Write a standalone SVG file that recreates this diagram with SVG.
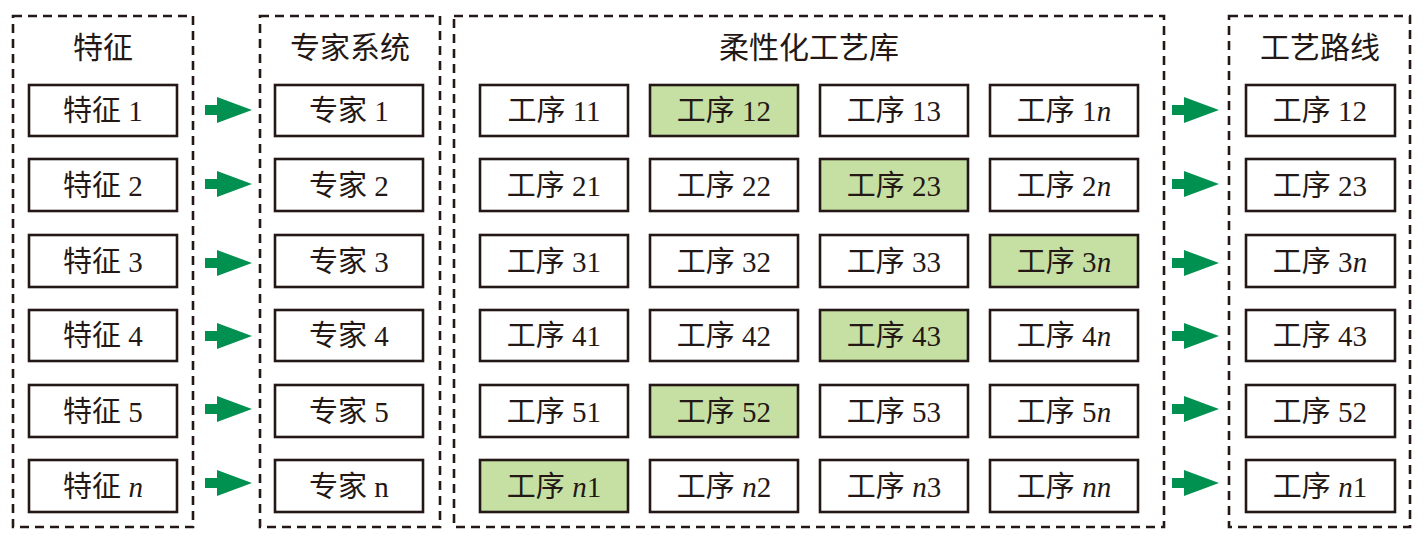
<svg xmlns="http://www.w3.org/2000/svg" width="1428" height="542" viewBox="0 0 1428 542">
<defs>
<style>
.c{fill:none;stroke:#231815;stroke-width:2.6;stroke-dasharray:9 6}
.b{fill:#fff;stroke:#231815;stroke-width:2.6}
.g{fill:#c6e0a4;stroke:#231815;stroke-width:2.6}
text{font-family:"Liberation Serif","Noto Sans CJK SC",serif;fill:#231815;text-anchor:middle}
.t{font-size:30px}
.l{font-size:29px}
.a{fill:#009150}
</style>
<path id="arr" class="a" d="M0,-5 H12 V-13 L47,0 L12,13 V5 H0 Z"/>
</defs>
<rect width="1428" height="542" fill="#fff"/>
<g id="containers">
<rect class="c" x="13" y="16" width="180" height="511"/>
<rect class="c" x="260" y="16" width="180" height="511"/>
<rect class="c" x="454" y="16" width="710" height="511"/>
<rect class="c" x="1229" y="16" width="181" height="511"/>
<text class="t" x="103" y="58">特征</text>
<text class="t" x="350" y="58">专家系统</text>
<text class="t" x="809" y="58">柔性化工艺库</text>
<text class="t" x="1320" y="58">工艺路线</text>
</g>
<g id="features">
<g id="f1"><rect class="b" x="29" y="85" width="148" height="51"/><text class="l" x="103" y="121">特征 1</text></g>
<g id="f2"><rect class="b" x="29" y="159" width="148" height="52"/><text class="l" x="103" y="196">特征 2</text></g>
<g id="f3"><rect class="b" x="29" y="235" width="148" height="52"/><text class="l" x="103" y="272">特征 3</text></g>
<g id="f4"><rect class="b" x="29" y="310" width="148" height="51"/><text class="l" x="103" y="346">特征 4</text></g>
<g id="f5"><rect class="b" x="29" y="385" width="148" height="52"/><text class="l" x="103" y="422">特征 5</text></g>
<g id="fn"><rect class="b" x="29" y="460" width="148" height="52"/><text class="l" x="103" y="497">特征 <tspan font-style="italic">n</tspan></text></g>
</g>
<g id="experts">
<g id="e1"><rect class="b" x="275" y="85" width="148" height="51"/><text class="l" x="349" y="121">专家 1</text></g>
<g id="e2"><rect class="b" x="275" y="159" width="148" height="52"/><text class="l" x="349" y="196">专家 2</text></g>
<g id="e3"><rect class="b" x="275" y="235" width="148" height="52"/><text class="l" x="349" y="272">专家 3</text></g>
<g id="e4"><rect class="b" x="275" y="310" width="148" height="51"/><text class="l" x="349" y="346">专家 4</text></g>
<g id="e5"><rect class="b" x="275" y="385" width="148" height="52"/><text class="l" x="349" y="422">专家 5</text></g>
<g id="en"><rect class="b" x="275" y="460" width="148" height="52"/><text class="l" x="349" y="497">专家 n</text></g>
</g>
<g id="library">
<g id="p11"><rect class="b" x="480" y="85" width="148" height="51"/><text class="l" x="554" y="121">工序 11</text></g>
<g id="p12"><rect class="g" x="650" y="85" width="148" height="51"/><text class="l" x="724" y="121">工序 12</text></g>
<g id="p13"><rect class="b" x="820" y="85" width="148" height="51"/><text class="l" x="894" y="121">工序 13</text></g>
<g id="p1n"><rect class="b" x="990" y="85" width="148" height="51"/><text class="l" x="1064" y="121">工序 1<tspan font-style="italic">n</tspan></text></g>
<g id="p21"><rect class="b" x="480" y="159" width="148" height="52"/><text class="l" x="554" y="196">工序 21</text></g>
<g id="p22"><rect class="b" x="650" y="159" width="148" height="52"/><text class="l" x="724" y="196">工序 22</text></g>
<g id="p23"><rect class="g" x="820" y="159" width="148" height="52"/><text class="l" x="894" y="196">工序 23</text></g>
<g id="p2n"><rect class="b" x="990" y="159" width="148" height="52"/><text class="l" x="1064" y="196">工序 2<tspan font-style="italic">n</tspan></text></g>
<g id="p31"><rect class="b" x="480" y="235" width="148" height="52"/><text class="l" x="554" y="272">工序 31</text></g>
<g id="p32"><rect class="b" x="650" y="235" width="148" height="52"/><text class="l" x="724" y="272">工序 32</text></g>
<g id="p33"><rect class="b" x="820" y="235" width="148" height="52"/><text class="l" x="894" y="272">工序 33</text></g>
<g id="p3n"><rect class="g" x="990" y="235" width="148" height="52"/><text class="l" x="1064" y="272">工序 3<tspan font-style="italic">n</tspan></text></g>
<g id="p41"><rect class="b" x="480" y="310" width="148" height="51"/><text class="l" x="554" y="346">工序 41</text></g>
<g id="p42"><rect class="b" x="650" y="310" width="148" height="51"/><text class="l" x="724" y="346">工序 42</text></g>
<g id="p43"><rect class="g" x="820" y="310" width="148" height="51"/><text class="l" x="894" y="346">工序 43</text></g>
<g id="p4n"><rect class="b" x="990" y="310" width="148" height="51"/><text class="l" x="1064" y="346">工序 4<tspan font-style="italic">n</tspan></text></g>
<g id="p51"><rect class="b" x="480" y="385" width="148" height="52"/><text class="l" x="554" y="422">工序 51</text></g>
<g id="p52"><rect class="g" x="650" y="385" width="148" height="52"/><text class="l" x="724" y="422">工序 52</text></g>
<g id="p53"><rect class="b" x="820" y="385" width="148" height="52"/><text class="l" x="894" y="422">工序 53</text></g>
<g id="p5n"><rect class="b" x="990" y="385" width="148" height="52"/><text class="l" x="1064" y="422">工序 5<tspan font-style="italic">n</tspan></text></g>
<g id="pn1"><rect class="g" x="480" y="460" width="148" height="52"/><text class="l" x="554" y="497">工序 <tspan font-style="italic">n</tspan>1</text></g>
<g id="pn2"><rect class="b" x="650" y="460" width="148" height="52"/><text class="l" x="724" y="497">工序 <tspan font-style="italic">n</tspan>2</text></g>
<g id="pn3"><rect class="b" x="820" y="460" width="148" height="52"/><text class="l" x="894" y="497">工序 <tspan font-style="italic">n</tspan>3</text></g>
<g id="pnn"><rect class="b" x="990" y="460" width="148" height="52"/><text class="l" x="1064" y="497">工序 <tspan font-style="italic">nn</tspan></text></g>
</g>
<g id="route">
<g id="r1"><rect class="b" x="1246" y="85" width="149" height="51"/><text class="l" x="1320" y="121">工序 12</text></g>
<g id="r2"><rect class="b" x="1246" y="159" width="149" height="52"/><text class="l" x="1320" y="196">工序 23</text></g>
<g id="r3"><rect class="b" x="1246" y="235" width="149" height="52"/><text class="l" x="1320" y="272">工序 3<tspan font-style="italic">n</tspan></text></g>
<g id="r4"><rect class="b" x="1246" y="310" width="149" height="51"/><text class="l" x="1320" y="346">工序 43</text></g>
<g id="r5"><rect class="b" x="1246" y="385" width="149" height="52"/><text class="l" x="1320" y="422">工序 52</text></g>
<g id="r6"><rect class="b" x="1246" y="460" width="149" height="52"/><text class="l" x="1320" y="497">工序 <tspan font-style="italic">n</tspan>1</text></g>
</g>
<g id="connectors">
<use href="#arr" x="205" y="110"/>
<use href="#arr" x="205" y="184"/>
<use href="#arr" x="205" y="263"/>
<use href="#arr" x="205" y="336"/>
<use href="#arr" x="205" y="409"/>
<use href="#arr" x="205" y="483"/>
<use href="#arr" x="1172" y="110"/>
<use href="#arr" x="1172" y="184"/>
<use href="#arr" x="1172" y="263"/>
<use href="#arr" x="1172" y="336"/>
<use href="#arr" x="1172" y="409"/>
<use href="#arr" x="1172" y="483"/>
</g>
</svg>
